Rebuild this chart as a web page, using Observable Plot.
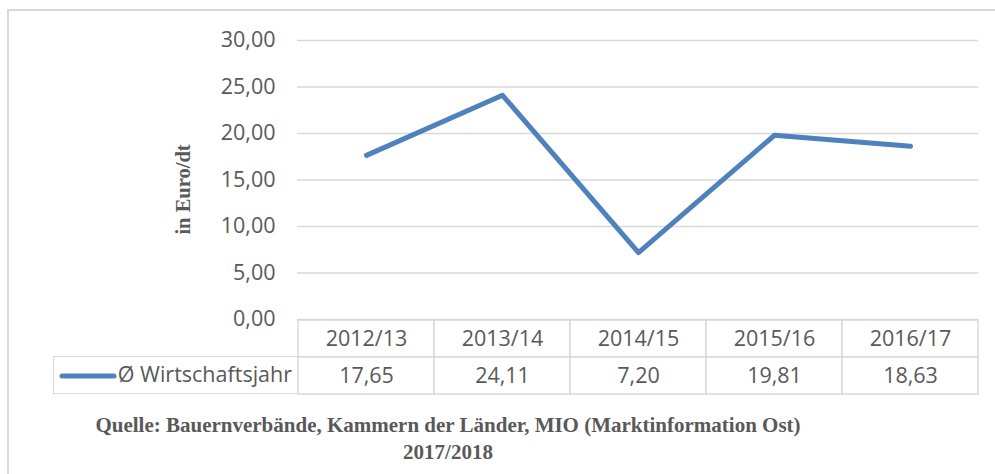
<!DOCTYPE html>
<html>
<head>
<meta charset="utf-8">
<script src="https://cdn.jsdelivr.net/npm/d3@7"></script>
<script src="https://cdn.jsdelivr.net/npm/@observablehq/plot@0.6"></script>
<style>
  html, body { margin: 0; padding: 0; background: #fff; overflow: hidden; }
  #wrap { position: relative; width: 995px; height: 474px; overflow: hidden; }
  #frame { position: absolute; left: 7px; top: 9px; width: 1000px; height: 480px; border: 2px solid #d9d9d9; box-sizing: border-box; }
  #chart, #table { position: absolute; left: 0; }
  #chart { top: 0; }
  #table { top: 319px; }
  #chart svg, #table svg { overflow: visible; }
  #legend { position: absolute; left: 53px; top: 356px; width: 244px; height: 38px; box-sizing: border-box;
    border: 1.5px solid #d9d9d9; border-right: none; background: #fff;
    font-family: "Open Sans", sans-serif; font-size: 21.5px; color: #595959; }
  #legend svg { position: absolute; left: 4px; top: 15px; }
  #legend span { position: absolute; right: 5px; top: 2px; white-space: nowrap; }
  #caption { position: absolute; left: 48px; width: 800px; top: 412px; text-align: center;
    font-family: "Liberation Serif", serif; font-weight: bold; font-size: 21px; line-height: 27px; color: #595959; }
</style>
</head>
<body>
<div id="wrap">
  <div id="frame"></div>
  <div id="chart"></div>
  <div id="table"></div>
  <div id="legend"></div>
  <div id="caption"></div>
</div>
<script>
const categories = ["2012/13", "2013/14", "2014/15", "2015/16", "2016/17"];
const values = [17.65, 24.11, 7.20, 19.81, 18.63];
const valueLabels = ["17,65", "24,11", "7,20", "19,81", "18,63"];
const yTicks = [0, 5, 10, 15, 20, 25, 30];
const seriesName = "Ø Wirtschaftsjahr";
const yLabel = "in Euro/dt";
const captionLines = ["Quelle: Bauernverbände, Kammern der Länder, MIO (Marktinformation Ost)", "2017/2018"];

const lineColor = "#4f81bd";
const gridColor = "#d9d9d9";
const textColor = "#595959";
const fmt = d => d.toFixed(2).replace(".", ",");

const points = categories.map((c, i) => ({cat: c, value: values[i]}));

const chart = Plot.plot({
  width: 995,
  height: 320,
  marginLeft: 297,
  marginRight: 17,
  marginTop: 40,
  marginBottom: 1,
  style: {fontFamily: "'Open Sans', sans-serif", fontSize: "21.5px", color: textColor, background: "transparent"},
  x: {type: "band", domain: categories, padding: 0, axis: null},
  y: {domain: [0, 30], axis: null},
  marks: [
    Plot.ruleY(yTicks, {stroke: gridColor, strokeWidth: 1.5}),
    Plot.axisY({ticks: yTicks, label: null, tickSize: 0, tickPadding: 22, tickFormat: fmt, fill: textColor, fontSize: 21.5}),
    Plot.text([yLabel], {frameAnchor: "left", textAnchor: "middle", rotate: -90, dx: -114, dy: 9.5,
      fontFamily: "'Liberation Serif', serif", fontWeight: "bold", fontSize: 20.5, fill: textColor}),
    Plot.line(points, {x: "cat", y: "value", stroke: lineColor, strokeWidth: 5, strokeLinejoin: "round", strokeLinecap: "round"})
  ]
});
document.getElementById("chart").appendChild(chart);

const cells = [];
categories.forEach((c, i) => {
  cells.push({cat: c, row: "cat", label: c});
  cells.push({cat: c, row: "val", label: valueLabels[i]});
});

const table = Plot.plot({
  width: 995,
  height: 75,
  marginLeft: 297,
  marginRight: 17,
  marginTop: 0,
  marginBottom: 0,
  style: {fontFamily: "'Open Sans', sans-serif", fontSize: "21.5px", color: textColor, background: "transparent"},
  x: {type: "band", domain: categories, padding: 0, axis: null},
  y: {type: "band", domain: ["cat", "val"], padding: 0, axis: null},
  marks: [
    Plot.cell(cells, {x: "cat", y: "row", fill: "white", stroke: gridColor, strokeWidth: 1.5, inset: 0}),
    Plot.text(cells, {x: "cat", y: "row", text: "label", fill: textColor, fontSize: 21.5})
  ]
});
document.getElementById("table").appendChild(table);

const legend = document.getElementById("legend");
legend.innerHTML = `<svg width="60" height="8"><line x1="4" y1="4" x2="56" y2="4" stroke="${lineColor}" stroke-width="5" stroke-linecap="round"/></svg><span>${seriesName}</span>`;

document.getElementById("caption").innerHTML = captionLines.join("<br>");
</script>
</body>
</html>
